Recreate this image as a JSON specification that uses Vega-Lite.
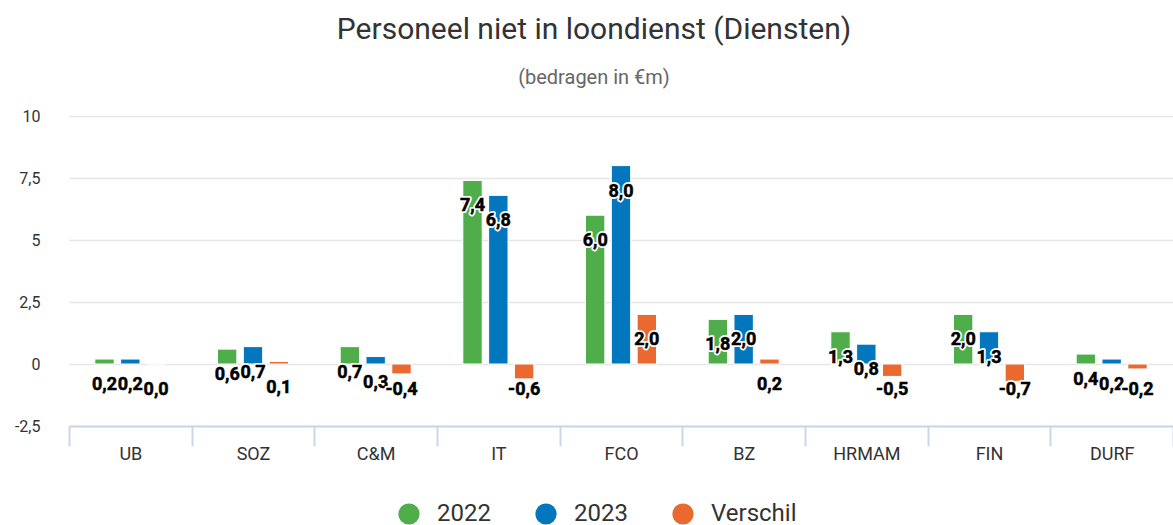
{
  "$schema": "https://vega.github.io/schema/vega-lite/v6.json",
  "width": 1104,
  "height": 310,
  "autosize": {"type": "none"},
  "padding": {"left": 69, "top": 116, "right": 0, "bottom": 99},
  "background": "white",
  "title": {
    "text": "Personeel niet in loondienst (Diensten)",
    "subtitle": "(bedragen in €m)",
    "anchor": "middle",
    "dx": -27,
    "font": "Roboto",
    "fontSize": 30,
    "fontWeight": "normal",
    "color": "#333333",
    "subtitleFont": "Roboto",
    "subtitleFontSize": 20,
    "subtitleColor": "#666666",
    "subtitlePadding": 23,
    "offset": 20
  },
  "config": {
    "locale": {"number": {"decimal": ",", "thousands": ".", "grouping": [3], "currency": ["€", ""], "minus": "-"}},
    "view": {"stroke": null},
    "font": "Roboto"
  },
  "data": {
    "values": [
      {"categorie": "UB", "reeks": "2022", "waarde": 0.2},
      {"categorie": "UB", "reeks": "2023", "waarde": 0.2},
      {"categorie": "UB", "reeks": "Verschil", "waarde": 0.0},
      {"categorie": "SOZ", "reeks": "2022", "waarde": 0.6},
      {"categorie": "SOZ", "reeks": "2023", "waarde": 0.7},
      {"categorie": "SOZ", "reeks": "Verschil", "waarde": 0.1},
      {"categorie": "C&M", "reeks": "2022", "waarde": 0.7},
      {"categorie": "C&M", "reeks": "2023", "waarde": 0.3},
      {"categorie": "C&M", "reeks": "Verschil", "waarde": -0.4},
      {"categorie": "IT", "reeks": "2022", "waarde": 7.4},
      {"categorie": "IT", "reeks": "2023", "waarde": 6.8},
      {"categorie": "IT", "reeks": "Verschil", "waarde": -0.6},
      {"categorie": "FCO", "reeks": "2022", "waarde": 6.0},
      {"categorie": "FCO", "reeks": "2023", "waarde": 8.0},
      {"categorie": "FCO", "reeks": "Verschil", "waarde": 2.0},
      {"categorie": "BZ", "reeks": "2022", "waarde": 1.8},
      {"categorie": "BZ", "reeks": "2023", "waarde": 2.0},
      {"categorie": "BZ", "reeks": "Verschil", "waarde": 0.2},
      {"categorie": "HRMAM", "reeks": "2022", "waarde": 1.3},
      {"categorie": "HRMAM", "reeks": "2023", "waarde": 0.8},
      {"categorie": "HRMAM", "reeks": "Verschil", "waarde": -0.5},
      {"categorie": "FIN", "reeks": "2022", "waarde": 2.0},
      {"categorie": "FIN", "reeks": "2023", "waarde": 1.3},
      {"categorie": "FIN", "reeks": "Verschil", "waarde": -0.7},
      {"categorie": "DURF", "reeks": "2022", "waarde": 0.4},
      {"categorie": "DURF", "reeks": "2023", "waarde": 0.2},
      {"categorie": "DURF", "reeks": "Verschil", "waarde": -0.2}
    ]
  },
  "encoding": {
    "x": {
      "field": "categorie",
      "type": "nominal",
      "sort": null,
      "title": null,
      "scale": {"paddingInner": 0, "paddingOuter": 0},
      "axis": {
        "labelAngle": 0,
        "labelFont": "Roboto",
        "labelFontSize": 18,
        "labelColor": "#333333",
        "labelBaseline": "middle",
        "labelPadding": 8,
        "domainColor": "#ccd6eb",
        "domainWidth": 2,
        "tickColor": "#ccd6eb",
        "tickWidth": 2,
        "tickSize": 20,
        "tickBand": "extent",
        "grid": false
      }
    },
    "xOffset": {
      "field": "reeks",
      "type": "nominal",
      "scale": {"paddingInner": 0.25, "paddingOuter": 1.175}
    }
  },
  "layer": [
    {
      "mark": {"type": "bar", "stroke": "white", "strokeWidth": 1},
      "encoding": {
        "y": {
          "field": "waarde",
          "type": "quantitative",
          "title": null,
          "scale": {"domain": [-2.5, 10], "nice": false, "zero": false},
          "axis": {
            "values": [-2.5, 0, 2.5, 5, 7.5, 10],
            "labelExpr": "replace(toString(datum.value), '.', ',')",
            "labelFont": "Roboto",
            "labelFontSize": 16,
            "labelColor": "#333333",
            "labelPadding": 29,
            "domain": false,
            "ticks": false,
            "gridColor": "#e6e6e6",
            "gridWidth": 1.5
          }
        },
        "color": {
          "field": "reeks",
          "type": "nominal",
          "scale": {"domain": ["2022", "2023", "Verschil"], "range": ["#4fae4a", "#0277bd", "#e9692e"]},
          "legend": {
            "title": null,
            "orient": "none",
            "legendX": 328,
            "legendY": 386,
            "direction": "horizontal",
            "symbolType": "circle",
            "symbolSize": 450,
            "symbolStrokeWidth": 0,
            "symbolOpacity": 1,
            "labelFont": "Roboto",
            "labelFontSize": 24,
            "labelColor": "#333333",
            "labelOffset": 16,
            "columnPadding": 43
          }
        }
      }
    },
    {
      "transform": [{"filter": "datum.waarde >= 0"}],
      "mark": {"type": "text", "baseline": "middle", "align": "center", "dy": 26, "fontSize": 18, "fontWeight": "bold", "stroke": "white", "strokeWidth": 4, "strokeJoin": "round", "fill": "white"},
      "encoding": {
        "y": {"field": "waarde", "type": "quantitative"},
        "text": {"field": "waarde", "type": "quantitative", "format": ".1f"}
      }
    },
    {
      "transform": [{"filter": "datum.waarde >= 0"}],
      "mark": {"type": "text", "baseline": "middle", "align": "center", "dy": 26, "fontSize": 18, "fontWeight": "bold", "fill": "black", "stroke": "black", "strokeWidth": 0.5},
      "encoding": {
        "y": {"field": "waarde", "type": "quantitative"},
        "text": {"field": "waarde", "type": "quantitative", "format": ".1f"}
      }
    },
    {
      "transform": [{"filter": "datum.waarde < 0"}],
      "mark": {"type": "text", "baseline": "middle", "align": "center", "dy": 26, "fontSize": 18, "fontWeight": "bold", "stroke": "white", "strokeWidth": 4, "strokeJoin": "round", "fill": "white"},
      "encoding": {
        "y": {"datum": 0, "type": "quantitative"},
        "text": {"field": "waarde", "type": "quantitative", "format": ".1f"}
      }
    },
    {
      "transform": [{"filter": "datum.waarde < 0"}],
      "mark": {"type": "text", "baseline": "middle", "align": "center", "dy": 26, "fontSize": 18, "fontWeight": "bold", "fill": "black", "stroke": "black", "strokeWidth": 0.5},
      "encoding": {
        "y": {"datum": 0, "type": "quantitative"},
        "text": {"field": "waarde", "type": "quantitative", "format": ".1f"}
      }
    }
  ]
}
